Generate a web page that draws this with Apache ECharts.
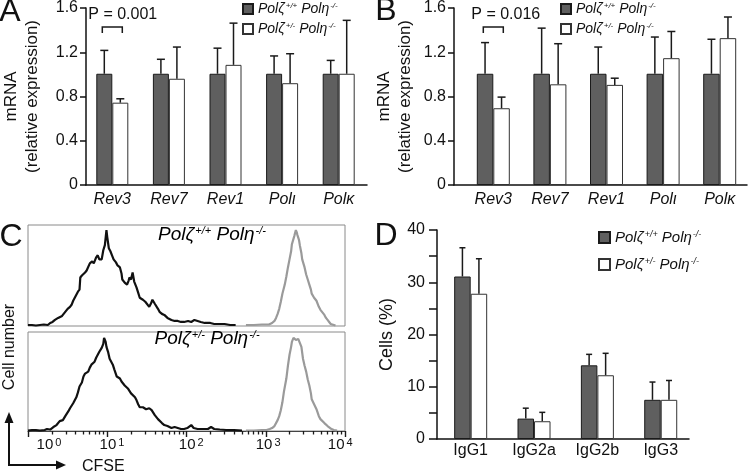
<!DOCTYPE html>
<html><head><meta charset="utf-8">
<script src="https://cdn.jsdelivr.net/npm/echarts@6/dist/echarts.min.js"></script>
<style>html,body{margin:0;padding:0;background:#fff}#wrap{position:relative;width:748px;height:474px}#c,#t{position:absolute;left:0;top:0;width:748px;height:474px}#t{pointer-events:none}</style>
</head><body><div id="wrap"><div id="c"></div><div id="t"></div></div>
<script>
// ---------------- data ----------------
const seriesNames = ['Polζ+/+ Polη-/-', 'Polζ+/- Polη-/-'];
const catsAB = ['Rev3', 'Rev7', 'Rev1', 'Polι', 'Polκ'];
// Panel A
const aWT = [1.0, 1.0, 1.0, 1.0, 1.0];
const aHet = [0.74, 0.955, 1.08, 0.915, 1.0];
const aWTsd = [0.21, 0.13, 0.23, 0.16, 0.12];
const aHetSd = [0.035, 0.285, 0.375, 0.265, 0.48];
// Panel B
const bWT = [1.0, 1.0, 1.0, 1.0, 1.0];
const bHet = [0.69, 0.905, 0.90, 1.14, 1.32];
const bWTsd = [0.28, 0.41, 0.24, 0.33, 0.31];
const bHetSd = [0.10, 0.365, 0.06, 0.24, 0.19];
const yTicksAB = [0, 0.4, 0.8, 1.2, 1.6];
// Panel D
const catsD = ['IgG1', 'IgG2a', 'IgG2b', 'IgG3'];
const dWT = [31.1, 3.9, 14.1, 7.5];
const dHet = [27.8, 3.4, 12.2, 7.5];
const dWTsd = [5.5, 2.0, 2.1, 3.4];
const dHetSd = [6.7, 1.7, 4.2, 3.7];
// Panel C: histograms, x = log10(CFSE), y = % of peak height
const cTopBlack = [[0.00,1],[0.05,1],[0.10,0.5],[0.15,1],[0.20,1.5],[0.25,1],[0.28,3],[0.31,4],[0.34,6],[0.36,5],[0.38,8],[0.40,7],[0.43,10],[0.45,12],[0.47,14],[0.49,13],[0.50,17],[0.53,19],[0.55,21],[0.57,25],[0.59,28],[0.61,31],[0.63,34],[0.65,36],[0.66,48],[0.68,50],[0.70,49],[0.72,53],[0.74,55],[0.75,56],[0.78,62],[0.81,64],[0.83,62],[0.84,63],[0.86,68],[0.88,70],[0.90,66],[0.93,66],[0.95,75],[0.97,80],[0.99,95],[1.00,88],[1.02,77],[1.04,74],[1.06,70],[1.08,66],[1.11,63],[1.13,60],[1.16,58],[1.18,52],[1.19,46],[1.22,43],[1.25,41],[1.27,45],[1.28,48],[1.30,46],[1.32,53],[1.34,44],[1.37,38],[1.39,33],[1.41,28],[1.43,27],[1.45,26],[1.48,24],[1.50,23],[1.53,19],[1.55,22],[1.57,26],[1.60,22],[1.62,23],[1.64,17],[1.66,14],[1.69,12],[1.72,11],[1.76,8],[1.81,6],[1.85,5],[1.89,5],[1.93,4],[1.97,4],[2.02,5],[2.06,4],[2.10,6],[2.14,5],[2.18,4],[2.23,3],[2.30,3],[2.35,2],[2.42,2],[2.48,2],[2.55,1],[2.62,1]];
const cTopGrey = [[2.75,1],[2.85,1],[2.95,1.5],[3.04,1.5],[3.08,3],[3.11,5],[3.13,8],[3.15,12],[3.17,17],[3.19,24],[3.21,32],[3.24,41],[3.26,49],[3.28,58],[3.30,66],[3.32,74],[3.33,81],[3.36,89],[3.38,95],[3.39,93],[3.40,90],[3.42,85],[3.43,80],[3.45,72],[3.46,66],[3.49,58],[3.51,51],[3.53,46],[3.55,41],[3.57,36],[3.58,32],[3.61,28],[3.64,25],[3.66,21],[3.67,19],[3.69,16],[3.71,14],[3.74,11],[3.76,8],[3.78,6],[3.80,4],[3.82,2],[3.84,1],[3.88,0.5]];
const cBotBlack = [[0.00,0.5],[0.05,1],[0.10,1],[0.15,0.5],[0.21,1],[0.24,2],[0.26,2],[0.28,1.5],[0.30,3],[0.32,4],[0.34,5],[0.36,6],[0.38,8],[0.40,10],[0.42,12],[0.44,11],[0.47,15],[0.49,17],[0.51,20],[0.53,23],[0.55,25],[0.57,28],[0.59,31],[0.61,34],[0.63,39],[0.65,45],[0.68,49],[0.70,55],[0.72,58],[0.74,57],[0.76,60],[0.78,64],[0.80,67],[0.82,66],[0.84,70],[0.86,74],[0.88,77],[0.90,80],[0.93,84],[0.95,88],[0.96,94],[0.98,90],[0.99,85],[1.01,80],[1.03,73],[1.05,70],[1.07,67],[1.09,62],[1.12,55],[1.14,54],[1.16,53],[1.18,50],[1.20,49],[1.22,46],[1.24,44],[1.26,43],[1.28,41],[1.30,38],[1.32,36],[1.35,34],[1.37,31],[1.39,27],[1.41,24],[1.43,25],[1.45,24],[1.47,22],[1.49,22],[1.51,24],[1.53,23],[1.56,21],[1.58,19],[1.60,16],[1.62,14],[1.64,12],[1.66,10],[1.69,8],[1.72,6],[1.76,5],[1.81,3],[1.85,4],[1.89,3],[1.93,2],[1.97,2],[2.01,3],[2.06,6],[2.09,3],[2.14,2],[2.19,2],[2.23,2],[2.27,2],[2.31,4],[2.35,2],[2.42,1.5],[2.50,1],[2.60,1],[2.70,0.5]];
const cBotGrey = [[2.75,0.5],[2.85,0.5],[2.95,1],[3.01,1],[3.05,2],[3.08,3],[3.11,5],[3.13,7],[3.15,11],[3.17,15],[3.19,21],[3.21,29],[3.23,40],[3.26,53],[3.28,66],[3.30,77],[3.32,85],[3.33,90],[3.35,94],[3.36,93],[3.38,92],[3.40,94],[3.41,93],[3.43,89],[3.45,85],[3.47,73],[3.49,66],[3.51,60],[3.53,52],[3.55,46],[3.57,38],[3.58,32],[3.61,27],[3.64,22],[3.67,15],[3.69,12],[3.71,10],[3.74,8],[3.76,7],[3.78,5],[3.80,3],[3.83,2],[3.86,1],[3.90,0.5]];
const cMajorTicks = [0, 1, 2, 3, 4];
const cLabelPos = [0.265, 1.06, 2.06, 3.03, 3.94];
const cLabelExp = ['0', '1', '2', '3', '4'];
const minorMult = [2, 3, 4, 5, 6, 7, 8, 9];

// ---------------- helpers ----------------
const fam = 'Liberation Sans, Arial, Helvetica, sans-serif';
const ink = '#111';
const genoRich = ['{i|Polζ}{s|+/+}{i| Polη}{s|-/-}', '{i|Polζ}{s|+/-}{i| Polη}{s|-/-}'];
function richStyle(size, sup) {
  return {
    i: {fontStyle: 'italic', fontSize: size, fontFamily: fam, color: ink},
    s: {fontStyle: 'italic', fontSize: sup, fontFamily: fam, color: ink, verticalAlign: 'top', padding: [0, 0, 0, 1]}
  };
}
const minorTicks = [];
for (let d = 0; d < 4; d++) minorMult.forEach(m => minorTicks.push(d + Math.log10(m)));

function errSeries(xi, yi, data, sd, offset, capHalf) {
  return {
    type: 'custom', xAxisIndex: xi, yAxisIndex: yi, z: 5, silent: true,
    data: data.map((v, i) => [i, v, sd[i]]),
    renderItem: function (params, api) {
      const x = api.value(0), m = api.value(1), s = api.value(2);
      const p0 = api.coord([x, m]), p1 = api.coord([x, m + s]);
      const cx = p0[0] + offset;
      return {type: 'group', children: [
        {type: 'line', shape: {x1: cx, y1: p0[1], x2: cx, y2: p1[1]}, style: {stroke: '#1a1a1a', lineWidth: 1.5}},
        {type: 'line', shape: {x1: cx - capHalf, y1: p1[1], x2: cx + capHalf, y2: p1[1]}, style: {stroke: '#1a1a1a', lineWidth: 1.5}}
      ]};
    }
  };
}
function barPair(xi, yi, wt, het, bw) {
  return [
    {name: seriesNames[0], type: 'bar', xAxisIndex: xi, yAxisIndex: yi, data: wt, barWidth: bw, barGap: '0%',
     itemStyle: {color: '#5f5f5f', borderColor: '#1a1a1a', borderWidth: 1}, silent: true},
    {name: seriesNames[1], type: 'bar', xAxisIndex: xi, yAxisIndex: yi, data: het, barWidth: bw, barGap: '0%',
     itemStyle: {color: '#ffffff', borderColor: '#333', borderWidth: 1}, silent: true}
  ];
}
function bracketSeries(xi, yi, text, lvlTop, lvlLeg, lvlText, textDx) {
  return {
    type: 'custom', xAxisIndex: xi, yAxisIndex: yi, z: 5, silent: true,
    data: [[0, lvlTop, lvlLeg, lvlText]],
    renderItem: function (params, api) {
      const c = api.coord([api.value(0), api.value(1)]);
      const leg = api.coord([api.value(0), api.value(2)]);
      const tp = api.coord([api.value(0), api.value(3)]);
      return {type: 'group', children: [
        {type: 'polyline', shape: {points: [[c[0] - 10, leg[1]], [c[0] - 10, c[1]], [c[0] + 10, c[1]], [c[0] + 10, leg[1]]]},
         style: {stroke: '#1a1a1a', lineWidth: 1.5, fill: 'none'}},
        {type: 'text', style: {text: text, x: c[0] + textDx, y: tp[1], fontSize: 16, fontFamily: fam, fill: ink, align: 'left', verticalAlign: 'middle'}}
      ]};
    }
  };
}
const frameX = (g) => ({type: 'value', gridIndex: g, min: 0, max: 1, axisLine: {show: true, lineStyle: {color: ink, width: 1.5}}, axisTick: {show: false}, axisLabel: {show: false}, splitLine: {show: false}});
const catX = (g, cats, italic, margin) => ({type: 'category', gridIndex: g, data: cats, axisLine: {show: false}, axisTick: {show: false},
  axisLabel: {fontSize: 16, fontFamily: fam, color: ink, fontStyle: italic ? 'italic' : 'normal', margin: margin, interval: 0}});
const hiddenY = (g, min, max) => ({type: 'value', gridIndex: g, min: min, max: max, show: false});
const abY = (g, gap) => ({type: 'value', gridIndex: g, min: 0, max: 1.6, interval: 0.4,
  axisLine: {show: true, lineStyle: {color: ink, width: 1.5}}, axisTick: {show: true, length: 6, lineStyle: {color: ink, width: 1.5}},
  axisLabel: {fontSize: 16, fontFamily: fam, color: ink, margin: 8}, splitLine: {show: false},
  name: 'mRNA\n(relative expression)', nameLocation: 'middle', nameRotate: 90, nameGap: gap,
  nameTextStyle: {fontSize: 17, fontFamily: fam, color: ink, lineHeight: 21}});
const legendAt = (left, top, size, gap, font, sup) => ({
  data: seriesNames, left: left, top: top, orient: 'vertical', itemWidth: size, itemHeight: size, itemGap: gap, icon: 'rect',
  padding: 0, selectedMode: false,
  formatter: (n) => genoRich[seriesNames.indexOf(n)],
  textStyle: {rich: richStyle(font, sup)}
});
function labelExp(v) {
  for (let i = 0; i < cLabelPos.length; i++) if (Math.abs(cLabelPos[i] - v) < 1e-6) return cLabelExp[i];
  return '';
}
const cBottomGrid = {left: 28, top: 332, width: 317, height: 99};

const option = {
  animation: false,
  backgroundColor: '#fff',
  grid: [
    {left: 80, top: 7, width: 287, height: 178},
    {left: 84, top: 7, width: 283, height: 178},
    {left: 454, top: 7, width: 293, height: 178},
    {left: 465, top: 7, width: 284, height: 178},
    {left: 28, top: 225, width: 317, height: 101, show: true, borderColor: '#8a8a8a', borderWidth: 1},
    Object.assign({show: true, borderColor: '#8a8a8a', borderWidth: 1}, cBottomGrid),
    {left: 437, top: 230, width: 252, height: 209},
    {left: 439, top: 230, width: 253.4, height: 209}
  ],
  xAxis: [
    frameX(0), catX(1, catsAB, true, 7), frameX(2), catX(3, catsAB, true, 7),
    {type: 'value', gridIndex: 4, min: 0, max: 4, show: false},
    {type: 'value', gridIndex: 5, min: 0, max: 4, position: 'bottom',
     axisLine: {show: true, lineStyle: {color: '#444', width: 1.2}},
     axisTick: {show: false},
     axisLabel: {show: true, customValues: cLabelPos, margin: 6, hideOverlap: false, showMinLabel: true, showMaxLabel: true,
       formatter: (v) => '{b|10}{s|' + labelExp(v) + '}',
       rich: {b: {fontSize: 15, fontFamily: fam, color: ink}, s: {fontSize: 11, fontFamily: fam, color: ink, verticalAlign: 'top', padding: [0, 0, 0, 2]}}},
     splitLine: {show: false}},
    frameX(6), catX(7, catsD, false, 4)
  ],
  yAxis: [
    abY(0, 43), hiddenY(1, 0, 1.6), abY(2, 38), hiddenY(3, 0, 1.6),
    hiddenY(4, 0, 100), hiddenY(5, 0, 100),
    {type: 'value', gridIndex: 6, min: 0, max: 40, interval: 5,
     axisLine: {show: true, lineStyle: {color: ink, width: 1.5}}, axisTick: {show: true, length: 8, lineStyle: {color: ink, width: 1.5}},
     axisLabel: {fontSize: 16, fontFamily: fam, color: ink, margin: 12, formatter: (v) => (v % 10 === 0 ? String(v) : '')},
     splitLine: {show: false},
     name: 'Cells (%)', nameLocation: 'middle', nameRotate: 90, nameGap: 41,
     nameTextStyle: {fontSize: 18, fontFamily: fam, color: ink}},
    hiddenY(7, 0, 40)
  ],
  legend: [legendAt(242, 2, 10, 6, 14, 8), legendAt(560, 2, 10, 6, 14, 8), legendAt(598, 230, 11, 12, 15, 9)],
  series: [
    ...barPair(1, 1, aWT, aHet, 16),
    errSeries(1, 1, aWT, aWTsd, -8, 4), errSeries(1, 1, aHet, aHetSd, 8, 4),
    bracketSeries(1, 1, 'P = 0.001', 1.42, 1.366, 1.53, -24),
    ...barPair(3, 3, bWT, bHet, 16.5),
    errSeries(3, 3, bWT, bWTsd, -8.25, 4), errSeries(3, 3, bHet, bHetSd, 8.25, 4),
    bracketSeries(3, 3, 'P = 0.016', 1.42, 1.366, 1.53, -22),
    {type: 'line', xAxisIndex: 4, yAxisIndex: 4, data: cTopBlack, symbol: 'none', lineStyle: {color: '#111', width: 2.2}, silent: true},
    {type: 'line', xAxisIndex: 4, yAxisIndex: 4, data: cTopGrey, symbol: 'none', lineStyle: {color: '#9a9a9a', width: 2.2}, silent: true},
    {type: 'line', xAxisIndex: 5, yAxisIndex: 5, data: cBotBlack, symbol: 'none', lineStyle: {color: '#111', width: 2.2}, silent: true},
    {type: 'line', xAxisIndex: 5, yAxisIndex: 5, data: cBotGrey, symbol: 'none', lineStyle: {color: '#9a9a9a', width: 2.2}, silent: true},
    ...barPair(7, 7, dWT, dHet, 16.5),
    errSeries(7, 7, dWT, dWTsd, -8.25, 3), errSeries(7, 7, dHet, dHetSd, 8.25, 3)
  ],
  graphic: [
    {type: 'text', x: 10, y: 12, style: {text: 'A', fontSize: 32, fontFamily: fam, fill: ink, align: 'center', verticalAlign: 'middle'}},
    {type: 'text', x: 386, y: 11, style: {text: 'B', fontSize: 32, fontFamily: fam, fill: ink, align: 'center', verticalAlign: 'middle'}},
    {type: 'text', x: 11, y: 237, style: {text: 'C', fontSize: 32, fontFamily: fam, fill: ink, align: 'center', verticalAlign: 'middle'}},
    {type: 'text', x: 386, y: 236, style: {text: 'D', fontSize: 32, fontFamily: fam, fill: ink, align: 'center', verticalAlign: 'middle'}},
    {type: 'text', x: 212, y: 235, style: {text: genoRich[0], rich: richStyle(19, 11), align: 'center', verticalAlign: 'middle'}},
    {type: 'text', x: 207, y: 339, style: {text: genoRich[1], rich: richStyle(19, 11), align: 'center', verticalAlign: 'middle'}},
    {type: 'text', x: 10, y: 347, rotation: Math.PI / 2, style: {text: 'Cell number', fontSize: 16, fontFamily: fam, fill: ink, align: 'center', verticalAlign: 'middle'}},
    {type: 'text', x: 82, y: 467, style: {text: 'CFSE', fontSize: 16, fontFamily: fam, fill: ink, align: 'left', verticalAlign: 'middle'}},
    {type: 'polyline', shape: {points: [[9, 420], [9, 465], [60, 465]]}, style: {stroke: ink, lineWidth: 2, fill: 'none'}},
    {type: 'polygon', shape: {points: [[9, 412], [4.5, 423], [13.5, 423]]}, style: {fill: ink}},
    {type: 'polygon', shape: {points: [[66, 465], [56, 460.5], [56, 469.5]]}, style: {fill: ink}}
  ]
};
const chart = echarts.init(document.getElementById('c'), null, {renderer: 'canvas'});
chart.setOption(option);

// Transparent overlay that carries the CFSE log-axis ticks (same grid geometry and scale as panel C's lower histogram)
const tickChart = echarts.init(document.getElementById('t'), null, {renderer: 'canvas'});
tickChart.setOption({
  animation: false,
  grid: [Object.assign({show: false}, cBottomGrid)],
  xAxis: [
    {type: 'value', min: 0, max: 4, axisLine: {show: false}, axisLabel: {show: false}, splitLine: {show: false},
     axisTick: {show: true, customValues: cMajorTicks, length: 6, lineStyle: {color: '#1a1a1a', width: 1.4}}},
    {type: 'value', min: 0, max: 4, position: 'bottom', offset: 0, axisLine: {show: false}, axisLabel: {show: false}, splitLine: {show: false},
     axisTick: {show: true, customValues: minorTicks, length: 3.5, lineStyle: {color: '#1a1a1a', width: 1.3}}}
  ],
  yAxis: [{type: 'value', min: 0, max: 100, show: false}],
  series: [{type: 'line', data: [], silent: true}]
});
</script></body></html>
